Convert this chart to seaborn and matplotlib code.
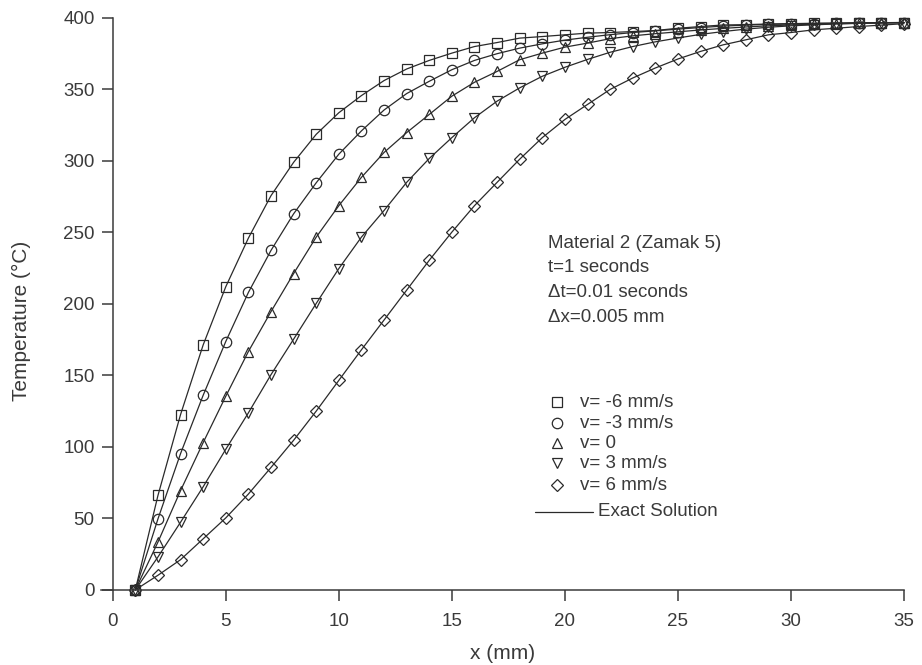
import numpy as np
import pandas as pd
import matplotlib
matplotlib.use("Agg")
import matplotlib.pyplot as plt
from matplotlib.lines import Line2D
import seaborn as sns

# Position along the bar (mm)
x_mm = list(range(1, 36))

# Temperature profiles (°C) for each velocity
t_vm6 = [0, 66, 122.6, 171.3, 212, 246, 275.7, 299, 318.6, 333.7, 345.7, 356.2,
         364.3, 370.3, 375.4, 380, 382.8, 385.9, 387, 388.2, 389.4, 389.8, 390.5,
         391.2, 392.8, 394, 395.1, 395.3, 395.8, 396, 396.3, 396.4, 396.7, 396.7, 396.8]
t_vm3 = [0, 49.6, 95.3, 136.1, 173.7, 208, 237.4, 263, 284.7, 304.7, 321, 335.6,
         347.1, 355.7, 363.8, 370.3, 375, 378.9, 381.9, 384.5, 386.5, 388.3, 389.8,
         391, 392.2, 393.3, 394.3, 395, 395.5, 395.8, 396.1, 396.3, 396.5, 396.7, 396.8]
t_v0 = [0, 33.4, 69.4, 103, 135.4, 166.7, 194.6, 221.2, 246.7, 268.7, 288.5, 305.9,
        319.8, 332.5, 345.3, 355, 362.6, 370.8, 375.4, 379.6, 382.4, 385.5, 387.5,
        389, 390.3, 391.6, 392.7, 393.7, 394.5, 395.1, 395.6, 396, 396.3, 396.6, 396.8]
t_vp3 = [0, 23, 47.3, 72.1, 98.3, 123.8, 150.5, 175.3, 200.3, 224.7, 246.7, 265.3,
         285, 301.7, 316.3, 330.2, 341.8, 351.1, 359.2, 365.5, 371, 376, 380,
         383.3, 386, 388.5, 390.5, 392.2, 393.5, 394.5, 395.2, 395.8, 396.2, 396.5, 396.7]
t_vp6 = [0, 10.2, 21.1, 35.7, 50.3, 67, 85.6, 104.6, 125, 146.5, 167.9, 188.7,
         209.6, 230.5, 250.2, 268.7, 285, 301.2, 316.3, 329, 339.5, 350, 358,
         365, 371.3, 376.6, 381.2, 384.7, 388.2, 389.8, 391.7, 392.8, 394, 395, 396]

series_labels = ["v= -6 mm/s", "v= -3 mm/s", "v= 0", "v= 3 mm/s", "v= 6 mm/s"]
series_values = [t_vm6, t_vm3, t_v0, t_vp3, t_vp6]
series_markers = ["s", "o", "^", "v", "D"]
marker_sizes = [7, 7.5, 7.5, 7.5, 6]

x_ticks = [0, 5, 10, 15, 20, 25, 30, 35]
y_ticks = [0, 50, 100, 150, 200, 250, 300, 350, 400]

info_lines = ["Material 2 (Zamak 5)", "t=1 seconds", "\u0394t=0.01 seconds", "\u0394x=0.005 mm"]

df = pd.concat(
    [pd.DataFrame({"x": x_mm, "T": vals, "v": lab}) for lab, vals in zip(series_labels, series_values)],
    ignore_index=True,
)

sns.set_theme(style="ticks")
plt.rcParams["font.family"] = ["Liberation Sans", "DejaVu Sans"]

ink = "#3a3a3a"
line_col = "#2a2a2a"

fig = plt.figure(figsize=(9.22, 6.65), dpi=100)
ax = fig.add_axes([0.110, 0.113, 0.8705, 0.860])

for lab, mk, ms in zip(series_labels, series_markers, marker_sizes):
    sub = df[df["v"] == lab]
    sns.lineplot(data=sub, x="x", y="T", ax=ax, color=line_col, lw=0.9,
                 marker=mk, markersize=ms, markerfacecolor="none",
                 markeredgecolor=line_col, markeredgewidth=0.9,
                 estimator=None, sort=True, legend=False, clip_on=False)

ax.set_xlim(-0.5, 35)
ax.set_ylim(0, 400)
ax.set_xticks(x_ticks)
ax.set_yticks(y_ticks)
ax.spines["left"].set_position(("data", 0))
ax.spines["top"].set_visible(False)
ax.spines["right"].set_visible(False)
for s in ("left", "bottom"):
    ax.spines[s].set_color(ink)
    ax.spines[s].set_linewidth(1.1)
ax.tick_params(axis="both", direction="out", length=8, width=1.1, color=ink,
               labelsize=13.5, labelcolor=ink, pad=5)
ax.tick_params(axis="x", pad=9)

ax.set_xlabel("x (mm)", fontsize=15, color=ink, labelpad=10)
ax.set_ylabel("Temperature (\u00b0C)", fontsize=15, color=ink, labelpad=4)
ax.yaxis.set_label_coords(-0.088, 0.47)

# Annotation block with run parameters
W, H = 922.0, 665.0
for i, txt in enumerate(info_lines):
    fig.text(548 / W, 1 - (243 + 25 * i) / H, txt, fontsize=13.5, color=ink,
             ha="left", va="center")

# Key: marker symbols for each velocity, then the line for the exact solution
row_y = [402, 423, 443, 463, 485]
for yy, lab, mk, ms in zip(row_y, series_labels, series_markers, marker_sizes):
    fig.add_artist(Line2D([557 / W], [1 - yy / H], transform=fig.transFigure,
                          marker=mk, markersize=ms, markerfacecolor="none",
                          markeredgecolor=line_col, markeredgewidth=0.9, linestyle="none"))
    fig.text(580 / W, 1 - yy / H, lab, fontsize=13.5, color=ink, ha="left", va="center")

fig.add_artist(Line2D([535 / W, 593 / W], [1 - 512 / H, 1 - 512 / H], transform=fig.transFigure,
                      color=line_col, lw=0.9))
fig.text(598 / W, 1 - 512 / H, "Exact Solution", fontsize=13.5, color=ink, ha="left", va="center")

fig.savefig("out.png", dpi=100, facecolor="white")
